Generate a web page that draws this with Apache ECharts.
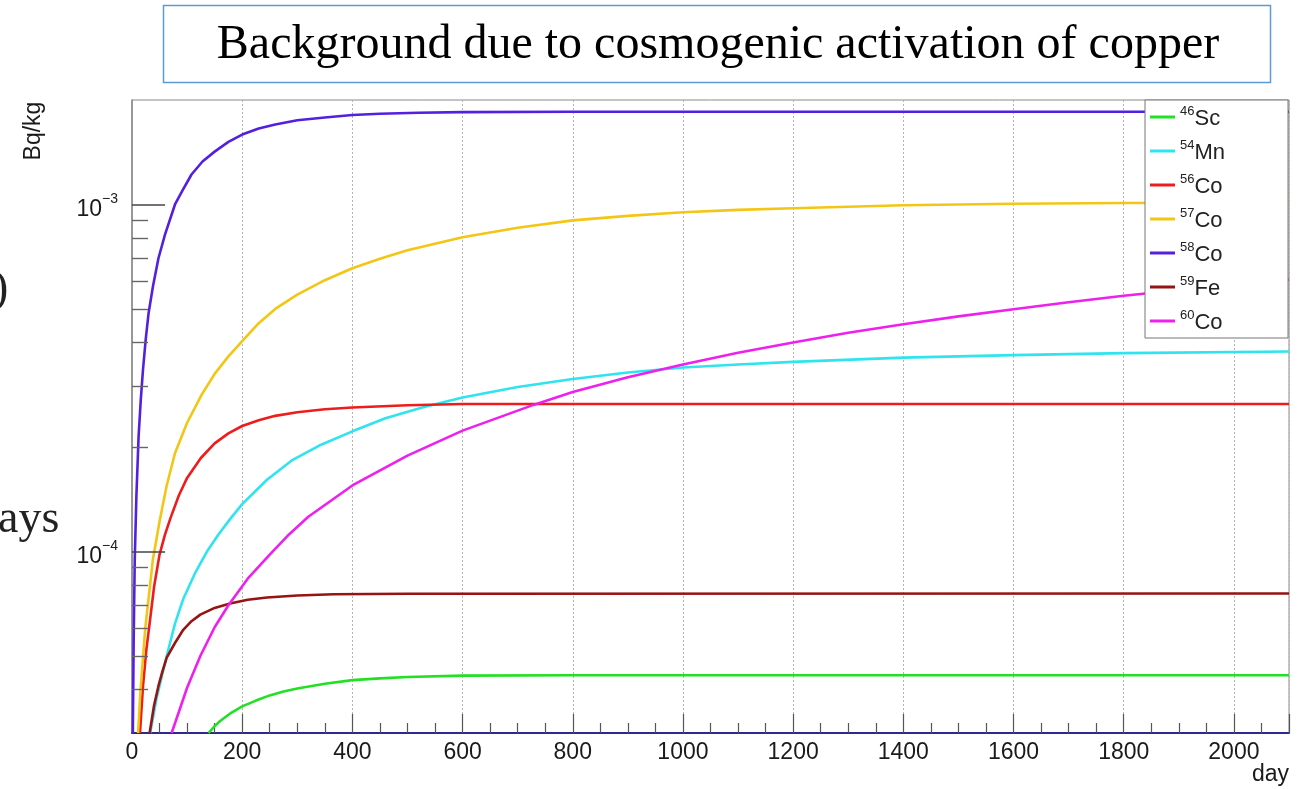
<!DOCTYPE html>
<html>
<head>
<meta charset="utf-8">
<script src="https://cdn.jsdelivr.net/npm/echarts@6/dist/echarts.min.js"></script>
<style>
  html, body { margin: 0; padding: 0; background: #fff; }
  #main { width: 1307px; height: 789px; }
</style>
</head>
<body>
<div id="main"></div>
<script>
// Activity (Bq/kg) of each cosmogenic isotope versus exposure time (days)
const massNumbers = ['46', '54', '56', '57', '58', '59', '60'];
const elements    = ['Sc', 'Mn', 'Co', 'Co', 'Co', 'Fe', 'Co'];

const sc46 = [[139,3.0e-5],[150,3.14e-5],[160,3.25e-5],[180,3.43e-5],[200,3.58e-5],[225,3.72e-5],[250,3.85e-5],[275,3.95e-5],[300,4.03e-5],[350,4.16e-5],[400,4.26e-5],[450,4.31e-5],[500,4.35e-5],[600,4.39e-5],[800,4.4e-5],[2100,4.4e-5]];
const mn54 = [[33,3.0e-5],[45,3.8e-5],[63,5.0e-5],[78,6.2e-5],[93,7.3e-5],[115,8.7e-5],[136,1.0e-4],[157,1.12e-4],[178,1.24e-4],[200,1.37e-4],[245,1.61e-4],[290,1.83e-4],[340,2.02e-4],[400,2.22e-4],[460,2.42e-4],[530,2.61e-4],[600,2.78e-4],[700,2.98e-4],[800,3.14e-4],[900,3.28e-4],[1000,3.39e-4],[1100,3.46e-4],[1200,3.52e-4],[1400,3.62e-4],[1600,3.68e-4],[1800,3.73e-4],[2100,3.77e-4]];
const co56 = [[14.5,3.0e-5],[20,4.1e-5],[26,5.2e-5],[33,6.4e-5],[40,7.9e-5],[50,9.8e-5],[60,1.12e-4],[70,1.25e-4],[85,1.45e-4],[100,1.63e-4],[125,1.86e-4],[150,2.05e-4],[175,2.19e-4],[200,2.3e-4],[230,2.39e-4],[260,2.46e-4],[300,2.52e-4],[350,2.57e-4],[400,2.6e-4],[500,2.64e-4],[600,2.66e-4],[2100,2.66e-4]];
const co57 = [[11,3.0e-5],[15,3.9e-5],[24,6.0e-5],[38,9.5e-5],[50,1.22e-4],[63,1.55e-4],[78,1.92e-4],[100,2.35e-4],[127,2.84e-4],[150,3.25e-4],[175,3.65e-4],[200,4.04e-4],[230,4.55e-4],[260,5.0e-4],[300,5.5e-4],[350,6.05e-4],[400,6.55e-4],[450,6.98e-4],[500,7.38e-4],[600,8.05e-4],[700,8.57e-4],[800,9.0e-4],[900,9.27e-4],[1000,9.5e-4],[1100,9.65e-4],[1200,9.75e-4],[1400,9.95e-4],[1600,1.005e-3],[1800,1.01e-3],[2100,1.013e-3]];
const co58 = [[1.5,3.0e-5],[3,5.5e-5],[5,9.5e-5],[8,1.45e-4],[12,2.15e-4],[16,2.75e-4],[20,3.35e-4],[25,4.1e-4],[30,4.85e-4],[38,5.8e-4],[48,7.0e-4],[60,8.2e-4],[78,1.0e-3],[92,1.1e-3],[108,1.22e-3],[128,1.33e-3],[150,1.42e-3],[175,1.515e-3],[200,1.59e-3],[230,1.655e-3],[260,1.7e-3],[300,1.748e-3],[350,1.78e-3],[400,1.81e-3],[450,1.825e-3],[520,1.838e-3],[600,1.845e-3],[800,1.85e-3],[2100,1.85e-3]];
const fe59 = [[32,3.0e-5],[40,3.6e-5],[48,4.1e-5],[55,4.5e-5],[63,4.95e-5],[78,5.45e-5],[93,5.95e-5],[108,6.3e-5],[124,6.58e-5],[150,6.88e-5],[178,7.08e-5],[210,7.26e-5],[245,7.37e-5],[300,7.47e-5],[366,7.53e-5],[500,7.56e-5],[2100,7.57e-5]];
const co60 = [[72,3.0e-5],[100,4.05e-5],[124,5.0e-5],[150,6.05e-5],[175,7.0e-5],[210,8.35e-5],[250,9.8e-5],[285,1.12e-4],[320,1.26e-4],[400,1.55e-4],[500,1.89e-4],[600,2.23e-4],[730,2.65e-4],[800,2.88e-4],[900,3.18e-4],[1000,3.46e-4],[1100,3.74e-4],[1200,4.0e-4],[1300,4.27e-4],[1400,4.52e-4],[1500,4.76e-4],[1600,4.99e-4],[1700,5.23e-4],[1800,5.46e-4],[2000,5.88e-4],[2100,6.08e-4]];

const seriesData = [sc46, mn54, co56, co57, co58, fe59, co60];
const colors = ['#22e022', '#2fe4ee', '#ee1c1c', '#f3c615', '#5420e0', '#961414', '#ee20ee'];

// Minor decade lines of the log axis (2..9 x 10^n inside the range)
const minorGrid = [4e-5,5e-5,6e-5,7e-5,8e-5,9e-5,2e-4,3e-4,4e-4,5e-4,6e-4,7e-4,8e-4,9e-4];
const majorGrid = [1e-4, 1e-3];

const names = massNumbers.map((m, i) => m + elements[i]);
const sans = '"Liberation Sans", Arial, sans-serif';
const serif = '"Liberation Serif", "Times New Roman", serif';

const chart = echarts.init(document.getElementById('main'));

const series = names.map((n, i) => ({
  name: n,
  type: 'line',
  data: seriesData[i],
  showSymbol: false,
  symbol: 'none',
  smooth: false,
  clip: true,
  z: 3,
  lineStyle: { color: colors[i], width: 2.6, join: 'round' },
  itemStyle: { color: colors[i] },
  emphasis: { disabled: true }
}));

// grid lines and left tick marks, placed through the axes' scales
series.push({
  name: 'grid',
  type: 'line',
  data: [],
  z: 1,
  silent: true,
  markLine: {
    silent: true,
    symbol: 'none',
    label: { show: false },
    animation: false,
    data: [].concat(
      minorGrid.concat(majorGrid).map(v => ({ yAxis: v, lineStyle: { color: '#b4b4b4', width: 1, type: [2, 2] } })),
      minorGrid.map(v => [
        { coord: [0, v], lineStyle: { color: '#666', width: 1.4, type: 'solid' } },
        { coord: [29, v] }
      ]),
      majorGrid.map(v => [
        { coord: [0, v], lineStyle: { color: '#444', width: 1.6, type: 'solid' } },
        { coord: [60, v] }
      ])
    )
  }
});

const option = {
  animation: false,
  backgroundColor: '#fff',
  grid: { left: 132, right: 18, top: 100, bottom: 56, show: true, borderColor: '#8a8a8a', borderWidth: 1 },
  xAxis: {
    type: 'value',
    min: 0, max: 2100, interval: 200,
    axisLine: { show: true, lineStyle: { color: '#2c2a8c', width: 2 } },
    axisTick: { show: true, inside: true, length: 19, lineStyle: { color: '#555', width: 1.2 } },
    minorTick: { show: true, splitNumber: 4, length: 10, lineStyle: { color: '#555', width: 1.2 } },
    splitLine: { show: true, lineStyle: { color: '#b4b4b4', width: 1, type: [2, 2] } },
    axisLabel: {
      color: '#1a1a1a', fontSize: 23, fontFamily: sans, margin: 8,
      showMaxLabel: false,
      formatter: v => (v > 2000 ? '' : String(v))
    }
  },
  yAxis: {
    type: 'log', logBase: 10,
    min: 3e-5, max: 2e-3,
    axisLine: { show: true, lineStyle: { color: '#8a8a8a', width: 1.5 } },
    axisTick: { show: false },
    splitLine: { show: false },
    axisLabel: {
      margin: 14,
      color: '#1a1a1a',
      fontFamily: sans,
      formatter: v => {
        const l = Math.log10(v);
        const e = Math.round(l);
        if (Math.abs(l - e) > 1e-6) return '';
        return '{b|10}{s|\u2212' + (-e) + '}';
      },
      rich: {
        b: { fontSize: 23, lineHeight: 24, fontFamily: sans, color: '#1a1a1a', padding: [10, 0, 0, 0] },
        s: { fontSize: 14, lineHeight: 14, verticalAlign: 'top', fontFamily: sans, color: '#1a1a1a' }
      }
    }
  },
  legend: {
    orient: 'vertical',
    left: 1145, top: 100,
    data: names,
    icon: 'rect',
    backgroundColor: '#fff',
    borderColor: '#777',
    borderWidth: 1,
    padding: [4, 63, 4, 5],
    itemGap: 8,
    itemWidth: 25,
    itemHeight: 3,
    z: 6,
    selectedMode: false,
    formatter: n => {
      const i = names.indexOf(n);
      return '{sup|' + massNumbers[i] + '}{el|' + elements[i] + '}';
    },
    textStyle: {
      rich: {
        sup: { fontSize: 13, lineHeight: 12, verticalAlign: 'top', color: '#222', fontFamily: sans },
        el: { fontSize: 22, lineHeight: 24, color: '#222', fontFamily: sans, padding: [4, 0, 0, 0] }
      }
    }
  },
  graphic: [
    {
      type: 'rect',
      shape: { x: 163.5, y: 5.5, width: 1107, height: 77 },
      style: { fill: '#fff', stroke: '#5b9bd5', lineWidth: 1.5 }
    },
    {
      type: 'text', x: 718, y: 45,
      style: { text: 'Background due to cosmogenic activation of copper', font: '48px ' + serif, fill: '#000', align: 'center', verticalAlign: 'middle' }
    },
    {
      type: 'text', x: -7, y: 290,
      style: { text: ')', font: '46px ' + serif, fill: '#222', align: 'left', verticalAlign: 'middle' }
    },
    {
      type: 'text', x: -2, y: 520,
      style: { text: 'ays', font: '46px ' + serif, fill: '#222', align: 'left', verticalAlign: 'middle' }
    },
    {
      type: 'text', x: 34, y: 131, rotation: Math.PI / 2,
      style: { text: 'Bq/kg', font: '23px ' + sans, fill: '#1a1a1a', align: 'center', verticalAlign: 'middle' }
    },
    {
      type: 'text', x: 1289, y: 775,
      style: { text: 'day', font: '23px ' + sans, fill: '#1a1a1a', align: 'right', verticalAlign: 'middle' }
    }
  ],
  series: series
};

chart.setOption(option);
</script>
</body>
</html>
